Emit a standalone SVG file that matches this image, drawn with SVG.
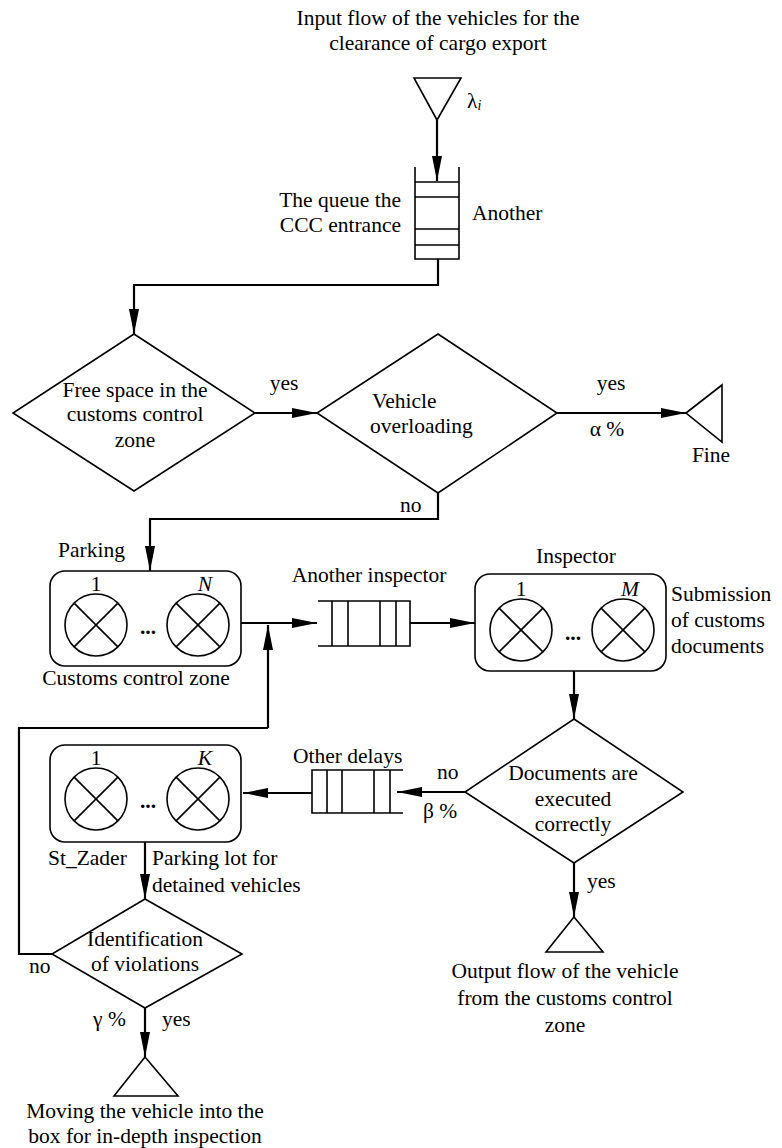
<svg xmlns="http://www.w3.org/2000/svg" width="782" height="1148" viewBox="0 0 782 1148">
<style>
.s{fill:none;stroke:#000;stroke-width:1.6}
.w{fill:#fff;stroke:#000;stroke-width:1.6}
.c{fill:none;stroke:#000;stroke-width:2.2}
.a{marker-end:url(#ah)}
text{font-family:"Liberation Serif","Times New Roman",serif;font-size:21.5px;fill:#000}
.m{text-anchor:middle}
.e{text-anchor:end}
.i{font-style:italic}
.d{font-weight:bold;text-anchor:middle}
</style>
<defs>
<marker id="ah" markerUnits="userSpaceOnUse" markerWidth="25" markerHeight="10" refX="25" refY="5" orient="auto">
<path d="M0,0 L25,5 L0,10 z" fill="#000"/>
</marker>
<g id="srv">
<circle cx="0" cy="0" r="31" class="s"/>
<path d="M-21.9,-21.9 L21.9,21.9 M21.9,-21.9 L-21.9,21.9" class="s"/>
</g>
</defs>
<g id="connectors">
<path class="c a" d="M437,120 V181"/>
<path class="c a" d="M438,259 V285 H134 V334"/>
<path class="c a" d="M255,413 H317"/>
<path class="c a" d="M557,413 H686"/>
<path class="c a" d="M438,493 V519 H150 V571"/>
<path class="c a" d="M241,623 H317"/>
<path class="c a" d="M268,728 V625"/>
<path class="c" d="M268,728 H19 V954 H52"/>
<path class="c a" d="M410,623 H475"/>
<path class="c a" d="M574,671 V719"/>
<path class="c a" d="M465,792 H397"/>
<path class="c a" d="M312,793 H243"/>
<path class="c a" d="M574,863 V917"/>
<path class="c a" d="M145,842 V899"/>
<path class="c a" d="M145,1008 V1057"/>
</g>
<g id="source">
<text class="m" x="438" y="25">Input flow of the vehicles for the</text>
<text class="m" x="438" y="50">clearance of cargo export</text>
<polygon class="s" points="414,78 461,78 437,120"/>
<text x="467" y="108">λ<tspan class="i" font-size="14" dy="2">i</tspan></text>
</g>
<g id="queue-entrance">
<path class="s" d="M415,167 V259 H459 V167 M415,182 H459 M415,197 H459 M415,229 H459 M415,245 H459"/>
<text class="e" x="401" y="207">The queue the</text>
<text class="e" x="401" y="232">CCC entrance</text>
<text x="472" y="220">Another</text>
</g>
<g id="free-space">
<polygon class="s" points="134,334 255,413 134,491 13,413"/>
<text class="m" x="135" y="397">Free space in the</text>
<text class="m" x="135" y="421">customs control</text>
<text class="m" x="135" y="447">zone</text>
<text class="m" x="284" y="390">yes</text>
</g>
<g id="overloading">
<polygon class="s" points="438,334 557,413 438,493 317,413"/>
<text x="372" y="408">Vehicle</text>
<text x="370" y="433">overloading</text>
<text class="m" x="611" y="390">yes</text>
<text class="m" x="607" y="436">α %</text>
<text x="400" y="512">no</text>
</g>
<g id="fine">
<polygon class="s" points="686,413 722,385 722,442"/>
<text class="m" x="711" y="462">Fine</text>
</g>
<g id="parking">
<text x="58" y="557">Parking</text>
<rect class="s" x="50" y="571" width="191" height="95" rx="15"/>
<use href="#srv" x="96" y="625"/>
<use href="#srv" x="198" y="625"/>
<text class="d" x="148" y="634">...</text>
<text class="m" x="96" y="591">1</text>
<text class="m i" x="205" y="591">N</text>
<text class="m" x="136" y="685">Customs control zone</text>
</g>
<g id="queue-inspector">
<text class="m" x="369" y="582">Another inspector</text>
<path class="s" d="M318,601 H410 V646 H318 M332,601 V646 M348,601 V646 M380,601 V646 M396,601 V646"/>
</g>
<g id="inspector">
<text class="m" x="576" y="563">Inspector</text>
<rect class="s" x="475" y="574" width="191" height="97" rx="15"/>
<use href="#srv" x="521" y="630"/>
<use href="#srv" x="623" y="630"/>
<text class="d" x="573" y="640">...</text>
<text class="m" x="521" y="596">1</text>
<text class="m i" x="630" y="596">M</text>
<text x="671" y="601">Submission</text>
<text x="671" y="627">of customs</text>
<text x="671" y="653">documents</text>
</g>
<g id="documents">
<polygon class="s" points="574,719 683,792 574,863 465,792"/>
<text class="m" x="573" y="780">Documents are</text>
<text class="m" x="573" y="806">executed</text>
<text class="m" x="573" y="831">correctly</text>
<text x="437" y="779">no</text>
<text x="423" y="818">β %</text>
<text x="587" y="888">yes</text>
</g>
<g id="output">
<polygon class="s" points="574,917 603,952 546,952"/>
<text class="m" x="565" y="978">Output flow of the vehicle</text>
<text class="m" x="565" y="1005">from the customs control</text>
<text class="m" x="565" y="1032">zone</text>
</g>
<g id="queue-delays">
<text x="293" y="763">Other delays</text>
<path class="s" d="M403,770 H312 V813 H403 M327,770 V813 M342,770 V813 M374,770 V813 M390,770 V813"/>
</g>
<g id="detained">
<rect class="s" x="50" y="745" width="191" height="97" rx="15"/>
<use href="#srv" x="96" y="799"/>
<use href="#srv" x="198" y="799"/>
<text class="d" x="148" y="808">...</text>
<text class="m" x="96" y="765">1</text>
<text class="m i" x="205" y="765">K</text>
<text x="48" y="865">St_Zader</text>
<text x="152" y="865">Parking lot for</text>
<text x="152" y="892">detained vehicles</text>
</g>
<g id="violations">
<polygon class="s" points="145,899 242,954 145,1008 52,954"/>
<text class="m" x="145" y="946">Identification</text>
<text class="m" x="145" y="971">of violations</text>
<text x="29" y="973">no</text>
<text x="93" y="1026">γ %</text>
<text x="162" y="1026">yes</text>
</g>
<g id="inspection">
<polygon class="s" points="145,1057 178,1096 114,1096"/>
<text class="m" x="145" y="1118">Moving the vehicle into the</text>
<text class="m" x="145" y="1143">box for in-depth inspection</text>
</g>
</svg>
